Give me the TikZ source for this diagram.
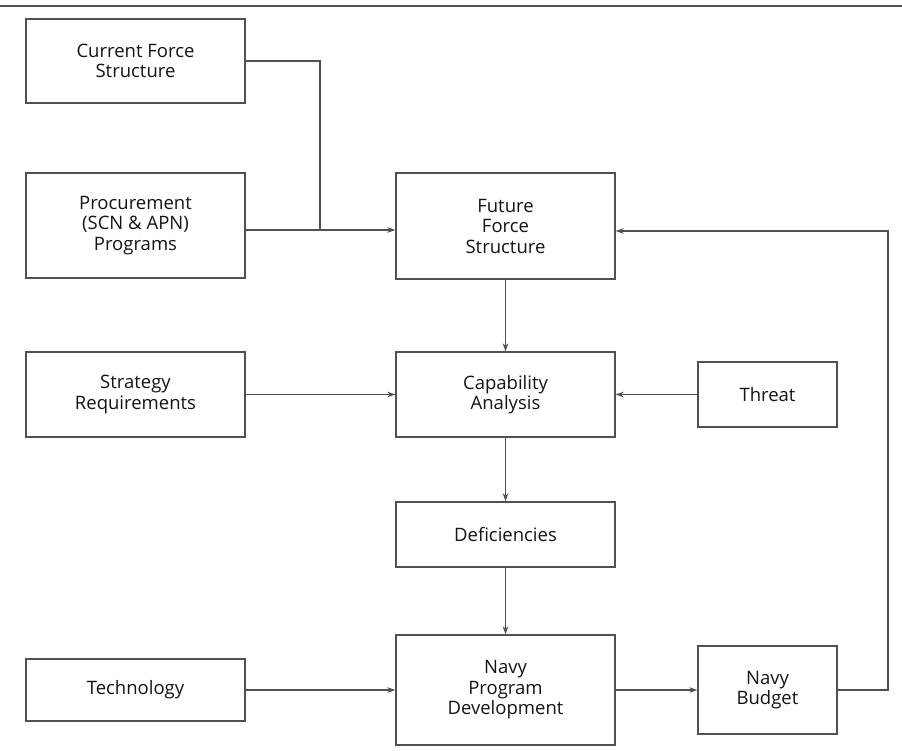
\documentclass[tikz,border=0pt]{standalone}
\usepackage{fontspec}
\setmainfont{Open Sans}
\usetikzlibrary{arrows.meta}
\definecolor{linegray}{HTML}{505050}
\definecolor{txt}{HTML}{141414}
\begin{document}
\begin{tikzpicture}[x=1pt,y=-1pt,
 box/.style={draw=linegray, line width=1.3pt, align=center, font=\fontsize{18.5}{20.5}\selectfont, text=txt, inner sep=0pt},
 conn/.style={draw=linegray, line width=1.2pt, -{Stealth[length=8pt,width=5.5pt,inset=2.5pt]}},
 plain/.style={draw=linegray, line width=1.2pt},
]
\useasboundingbox (0,0) rectangle (902,750);
\draw[line width=2pt, linegray] (0,6) -- (902,6);

\node[box, minimum width=219pt, minimum height=84pt] (cur) at (135.5,61) {Current Force\\Structure};
\node[box, minimum width=219pt, minimum height=105pt] (proc) at (135.5,225.5) {Procurement\\(SCN \& APN)\\Programs};
\node[box, minimum width=219pt, minimum height=106pt] (fut) at (505.5,226) {Future\\Force\\Structure};
\node[box, minimum width=219pt, minimum height=85pt] (strat) at (135.5,394.5) {Strategy\\Requirements};
\node[box, minimum width=219pt, minimum height=85pt] (cap) at (505.5,394.5) {Capability\\Analysis};
\node[box, minimum width=139pt, minimum height=65pt] (thr) at (767.5,394.5) {Threat};
\node[box, minimum width=219pt, minimum height=65pt] (def) at (505.5,534.5) {Deficiencies};
\node[box, minimum width=219pt, minimum height=62pt] (tech) at (135.5,690) {Technology};
\node[box, minimum width=219pt, minimum height=110pt] (npd) at (505.5,690) {Navy\\Program\\Development};
\node[box, minimum width=139pt, minimum height=88pt] (bud) at (767.5,690) {Navy\\Budget};

\coordinate (j) at (320,230);
\coordinate (r) at (888,231);

\draw[plain] (cur.east) -| (j);
\draw[conn] (proc.east |- j) -- (fut.west |- j);
\draw[conn] (fut.south) -- (cap.north);
\draw[conn] (strat.east) -- (cap.west);
\draw[conn] (thr.west) -- (cap.east);
\draw[conn] (cap.south) -- (def.north);
\draw[conn] (def.south) -- (npd.north);
\draw[conn] (tech.east) -- (npd.west);
\draw[conn] (npd.east) -- (bud.west);
\draw[conn] (bud.east) -| (r) -- (fut.east |- r);
\end{tikzpicture}
\end{document}
